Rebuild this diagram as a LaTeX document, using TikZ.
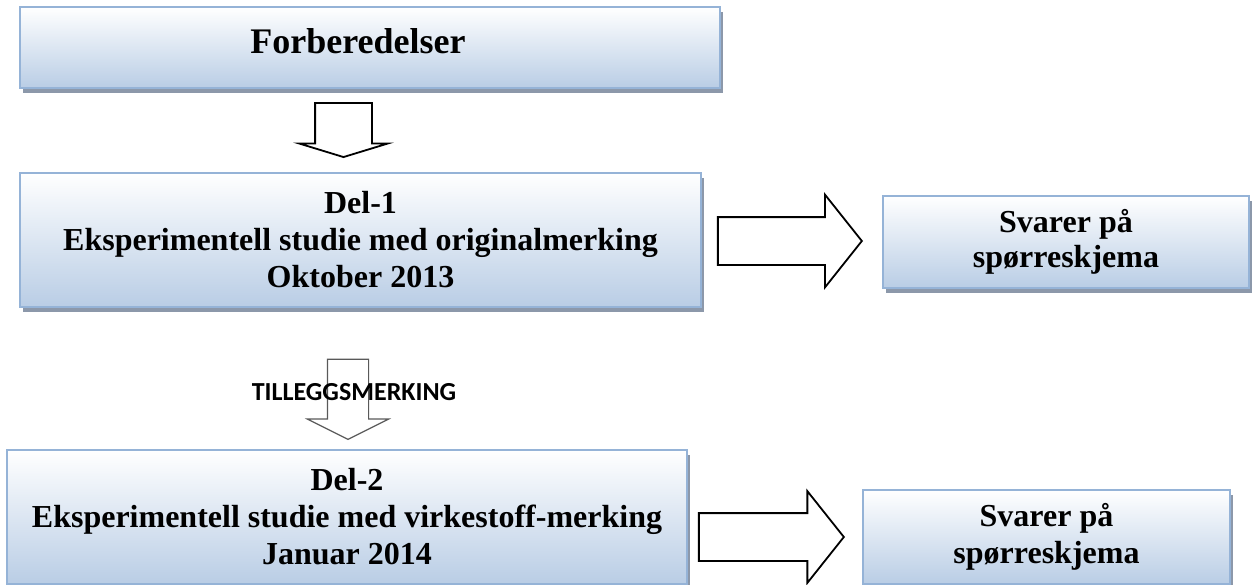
\documentclass[tikz,border=0pt]{standalone}
\usepackage{fontspec}
\setmainfont{Liberation Serif}
\newfontfamily\labelfont{Carlito}
\usetikzlibrary{shapes.arrows,shadows}

\definecolor{boxline}{RGB}{149,179,215}
\definecolor{boxblue}{RGB}{185,205,229}
\definecolor{boxshadow}{RGB}{140,152,170}

\begin{document}
\begin{tikzpicture}[x=0.5pt, y=-0.5pt,
  stage/.style={draw=boxline, line width=1pt, top color=white, bottom color=boxblue,
    align=center, inner sep=0pt, font=\bfseries\fontsize{16}{18.5}\selectfont,
    drop shadow={shadow xshift=1.5pt, shadow yshift=-2.5pt, fill=boxshadow, opacity=1}},
  blockarrow/.style={single arrow, draw=black, line width=0.9pt, fill=white,
    inner xsep=0pt, single arrow head indent=0pt, anchor=tip}]
  % Fix the size of the picture
  \useasboundingbox (0,0) rectangle (1252,584);

  % The stages on the left
  \node[stage, font=\bfseries\fontsize{18}{21}\selectfont, text depth=6pt, minimum width=350pt, minimum height=40.5pt] (forb) at (370,47.5) {Forberedelser\hspace*{12pt}};
  \node[stage, minimum width=340.5pt, minimum height=67pt] (del1) at (360.5,240) {Del-1\\Eksperimentell studie med originalmerking\\Oktober 2013};
  \node[stage, minimum width=340pt, minimum height=67pt] (del2) at (347,517) {Del-2\\Eksperimentell studie med virkestoff-merking\\Januar 2014};

  % The questionnaires on the right
  \node[stage, font=\bfseries\fontsize{16}{17.5}\selectfont, minimum width=183pt, minimum height=46pt] (svar1) at (1066,242) {Svarer på\\spørreskjema};
  \node[stage, font=\bfseries\fontsize{16}{18.5}\selectfont, minimum width=183.5pt, minimum height=47pt] (svar2) at (1046.5,537) {Svarer på\\spørreskjema};

  % Block arrows between the boxes
  \node[blockarrow, rotate=-90, minimum height=27pt, inner ysep=13.75pt, single arrow head extend=8pt, single arrow tip angle=146] (pil1) at (343.5,158) {};
  \node[blockarrow, rotate=-90, draw=black!65, line width=0.6pt, minimum height=40pt, inner ysep=10pt, single arrow head extend=10pt, single arrow tip angle=127] (pil2) at (348,440) {};
  \node[blockarrow, minimum height=72pt, inner ysep=11.5pt, single arrow head extend=11.25pt, single arrow tip angle=103] (pil3) at (863,241) {};
  \node[blockarrow, minimum height=72.5pt, inner ysep=11.5pt, single arrow head extend=11pt, single arrow tip angle=103] (pil4) at (845,537) {};

  % Label on the second arrow
  \node[font=\labelfont\bfseries\fontsize{13}{15}\selectfont] (tillegg) at (354,392) {TILLEGGSMERKING};
\end{tikzpicture}
\end{document}
